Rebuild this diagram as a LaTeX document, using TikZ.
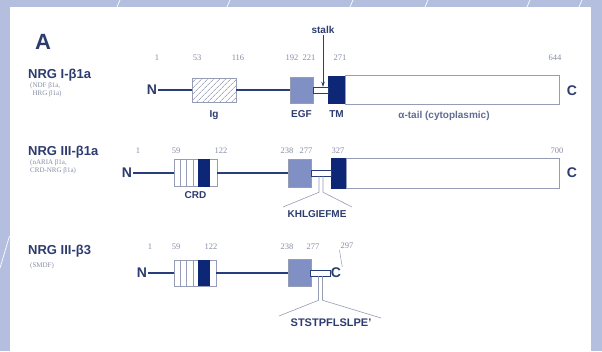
\documentclass[tikz,border=0pt]{standalone}
\usepackage{fontspec}
\setmainfont{Liberation Serif}
\setsansfont{Liberation Sans}
\usetikzlibrary{positioning, patterns.meta, arrows.meta}

\definecolor{lavbg}{RGB}{180,190,222}
\definecolor{navy}{RGB}{14,38,118}
\definecolor{egfblue}{RGB}{128,144,196}
\definecolor{linec}{RGB}{40,62,122}
\definecolor{txtc}{RGB}{45,60,110}
\definecolor{numc}{RGB}{135,142,165}
\definecolor{boxc}{RGB}{150,156,180}
\definecolor{hatchc}{RGB}{120,128,158}

\tikzset{
  dom/.style={draw=boxc, rectangle, inner sep=0, line width=0.6},
  egf/.style={dom, fill=egfblue, minimum width=23},
  tmb/.style={dom, draw=navy, fill=navy},
  tailb/.style={dom, fill=white},
  stalkb/.style={dom, draw=linec, fill=white, minimum height=6, line width=0.5},
  bb/.style={linec, line width=1.6},
  tent/.style={boxc, line width=0.6},
  num/.style={font=\fontsize{8.5}{9}\selectfont, text=numc, inner sep=1},
  lbl/.style={font=\sffamily\bfseries\fontsize{10}{11}\selectfont, text=txtc, inner sep=1},
  endlbl/.style={font=\sffamily\bfseries\fontsize{14}{15}\selectfont, text=txtc, inner sep=1},
  protname/.style={font=\sffamily\bfseries\fontsize{13}{14}\selectfont, text=txtc, anchor=west, inner sep=0},
  synon/.style={font=\fontsize{7}{8}\selectfont, text=numc, anchor=west, inner sep=0, align=left},
}

\begin{document}
\begin{tikzpicture}[x=1pt, y=1pt]
    \useasboundingbox (0,0) rectangle (602,-351);
    % background panel
    \fill[lavbg] (0,0) rectangle (602,-351);
    \fill[white] (9.5,-7) rectangle (591,-351);
    \foreach \x in {117,227,350,425,527,579}
        \draw[white, line width=0.7] (\x,-7) -- ++(3,7);
    \draw[white, line width=0.7] (0,-268) -- (9.5,-236);

    \node (A) [endlbl, font=\sffamily\bfseries\fontsize{22}{24}\selectfont] at (43,-42) {A};

    % NRG I-beta1a
    \node (name1) [protname] at (28,-75) {NRG I-β1a};
    \node (syn1) [synon] at (30,-90) {(NDF β1a,\\\phantom{(}HRG β1a)};
    \node (n1) [endlbl] at (152,-90) {N};
    \node (ig1) [dom, pattern={Lines[angle=45,distance=4pt,line width=0.6pt]}, pattern color=hatchc,
        minimum width=44, minimum height=24] at (214,-90) {};
    \node (egf1) [egf, minimum height=26] at (301.5,-90) {};
    \node (tm1) [tmb, minimum width=17, minimum height=27] at (336.5,-90) {};
    \node (tail1) [tailb, minimum width=214, minimum height=29] at (452,-90) {};
    \path (egf1.east) -- (tm1.west) node[midway, stalkb, minimum width=15] (st1) {};
    \node (c1) [endlbl] at (572,-91) {C};
    \draw[bb] (n1) -- (ig1);
    \draw[bb] (ig1) -- (egf1);

    \node (stalk) [lbl] at (323,-30) {stalk};
    \draw[linec, line width=0.6, -{Stealth[length=5pt,width=3.5pt]}] (stalk.south) -- (stalk.south |- st1.north);

    \node (iglbl) [lbl, below=7 of ig1] {Ig};
    \node (egflbl1) [lbl, below=6 of egf1] {EGF};
    \node (tmlbl) [lbl, below=6 of tm1] {TM};
    \node (taillbl) [lbl, below=5 of tail1, xshift=-8, text=txtc!75] {α-tail (cytoplasmic)};

    \foreach \x/\v in {157/1, 197/53, 238/116, 292/192, 309/221, 340/271, 555/644}
        \node [num] at (\x,-58) {\v};

    % NRG III-beta1a
    \node (name2) [protname] at (28,-152) {NRG III-β1a};
    \node (syn2) [synon] at (30,-167) {(nARIA β1a,\\CRD-NRG β1a)};
    \node (n2) [endlbl] at (127,-173) {N};
    \node (crd2) [dom, fill=white, minimum width=43, minimum height=27] at (195.5,-173) {};
    \node (egf2) [egf, minimum height=28] at (299.5,-173) {};
    \node (tm2) [tmb, minimum width=15, minimum height=30] at (338.5,-173) {};
    \node (tail2) [tailb, minimum width=213, minimum height=30] at (452.5,-173) {};
    \path (egf2.east) -- (tm2.west) node[midway, stalkb, minimum width=20] (st2) {};
    \node (c2) [endlbl] at (572,-173) {C};
    \draw[bb] (n2) -- (crd2);
    \draw[bb] (crd2) -- (egf2);
    \node (crdlbl) [lbl, below=4 of crd2] {CRD};

    \coordinate (kl) at (283,-207);
    \coordinate (kr) at (352,-207);
    \draw[tent] ([xshift=-2]st2.south) -- ++(0,-16) -- (kl);
    \draw[tent] ([xshift=2]st2.south) -- ++(0,-16) -- (kr);
    \node (khl) [lbl] at (317,-214) {KHLGIEFME};

    \foreach \x/\v in {138/1, 176/59, 221/122, 287/238, 306/277, 338/327, 557/700}
        \node [num] at (\x,-151) {\v};

    % NRG III-beta3
    \node (name3) [protname] at (28,-251) {NRG III-β3};
    \node (syn3) [synon] at (30,-266) {(SMDF)};
    \node (n3) [endlbl] at (142,-273) {N};
    \node (crd3) [dom, fill=white, minimum width=42, minimum height=26] at (195,-273) {};
    \node (egf3) [egf, minimum height=27] at (299.5,-273) {};
    \node (c3) [endlbl] at (336,-273) {C};
    \path (egf3.east) -- (c3.west) node[midway, stalkb, minimum width=20] (st3) {};
    \draw[bb] (n3) -- (crd3);
    \draw[bb] (crd3) -- (egf3);

    \coordinate (sl) at (279,-316);
    \coordinate (sr) at (381,-318);
    \draw[tent] ([xshift=-2]st3.south) -- ++(0,-24) -- (sl);
    \draw[tent] ([xshift=2]st3.south) -- ++(0,-24) -- (sr);
    \node (ststp) [lbl, font=\sffamily\bfseries\fontsize{11}{12}\selectfont] at (331,-323) {STSTPFLSLPE'};

    \foreach \x/\v in {150/1, 176/59, 211/122, 287/238, 313/277}
        \node [num] at (\x,-247) {\v};
    \node (n297) [num] at (347,-246) {297};
    \draw[boxc, line width=0.5] (n297.south west) -- (c3.north east);

    % CRD stripes
    \foreach \r in {crd2, crd3} {
        \foreach \d in {6.5,13,19.5}
            \draw[boxc, line width=0.5] ([xshift=\d]\r.north west) -- ([xshift=\d]\r.south west);
        \fill[navy] ([xshift=24]\r.north west) rectangle ([xshift=36]\r.south west);
    }
\end{tikzpicture}
\end{document}
